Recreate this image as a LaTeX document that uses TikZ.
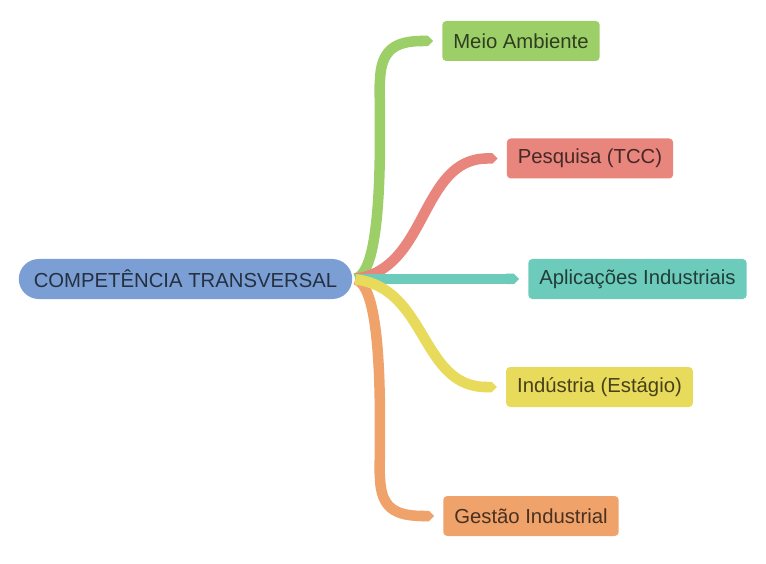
\documentclass[tikz,border=0pt]{standalone}
\usepackage{fontspec}
\setmainfont{Liberation Sans}
\usetikzlibrary{arrows.meta}

\definecolor{rootblue}{HTML}{7B9FD5}
\definecolor{leafgreen}{HTML}{9DCF69}
\definecolor{leafred}{HTML}{E8867E}
\definecolor{leafteal}{HTML}{6DCBBC}
\definecolor{leafyellow}{HTML}{E8DA5B}
\definecolor{leaforange}{HTML}{F0A26B}

\tikzset{
  topic/.style={rounded corners=20pt, minimum height=40pt, inner xsep=15pt,
    font=\fontsize{20.3}{24}\selectfont},
  leaf/.style={rounded corners=4pt, minimum height=40pt, inner xsep=11pt,
    font=\fontsize{20.3}{24}\selectfont},
  ribbon/.style={line width=10.5pt, -{Triangle Cap[]}, shorten >=9pt, shorten <=3pt}
}

\begin{document}
\begin{tikzpicture}[x=1pt,y=-1pt]
\useasboundingbox (0,0) rectangle (766,564);

\node [topic, fill=rootblue, text=rootblue!30!black] (comp) at (185.5,279) {COMPETÊNCIA TRANSVERSAL};
\node [leaf, fill=leafgreen, text=leafgreen!30!black] (meio) at (521,41) {Meio Ambiente};
\node [leaf, fill=leafred, text=leafred!30!black] (pesq) at (590,158.5) {Pesquisa (TCC)};
\node [leaf, fill=leafteal, text=leafteal!30!black] (apli) at (637.5,279) {Aplicações Industriais};
\node [leaf, fill=leafyellow, text=leafyellow!30!black] (indu) at (599.5,387) {Indústria (Estágio)};
\node [leaf, fill=leaforange, text=leaforange!30!black] (gest) at (531,516) {Gestão Industrial};

\draw [ribbon, leafgreen] (comp.east) .. controls (388,272) and (378,90) .. (380,80)
  .. controls (381,50) and (395,41) .. (meio.west);
\draw [ribbon, leaforange] (comp.east) .. controls (388,286) and (378,468) .. (380,478)
  .. controls (381,508) and (395,516) .. (gest.west);
\draw [ribbon, leafred] (comp.east) .. controls (428,270) and (420,158.5) .. (pesq.west);
\draw [ribbon, leafteal] (comp.east) -- (apli.west);
\draw [ribbon, leafyellow] (comp.east) .. controls (428,288) and (420,387) .. (indu.west);
\end{tikzpicture}
\end{document}
